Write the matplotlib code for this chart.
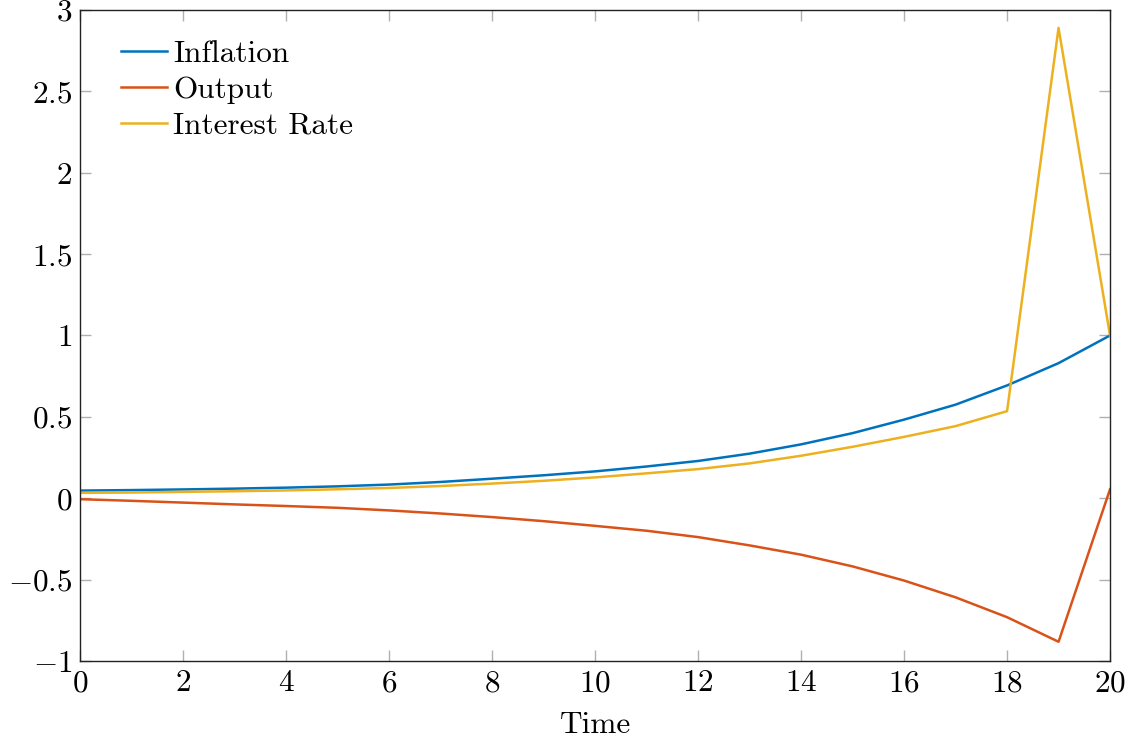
import matplotlib
matplotlib.use("Agg")
import matplotlib.pyplot as plt
from matplotlib.ticker import FuncFormatter, MultipleLocator

plt.rcParams['font.family'] = 'serif'
plt.rcParams['font.serif'] = ['cmr10', 'DejaVu Serif']
plt.rcParams['mathtext.fontset'] = 'cm'
plt.rcParams['axes.formatter.use_mathtext'] = True

# impulse responses
time = list(range(21))
inflation = [0.047, 0.050, 0.054, 0.059, 0.065, 0.073, 0.084, 0.100, 0.120, 0.141,
             0.165, 0.195, 0.229, 0.274, 0.331, 0.400, 0.483, 0.575, 0.693, 0.830, 1.0]
output = [-0.006, -0.016, -0.027, -0.038, -0.048, -0.059, -0.075, -0.094, -0.116, -0.141,
          -0.170, -0.200, -0.239, -0.290, -0.347, -0.419, -0.506, -0.609, -0.731, -0.882, 0.055]
interest = [0.033, 0.035, 0.039, 0.043, 0.048, 0.055, 0.063, 0.075, 0.090, 0.107,
            0.128, 0.153, 0.179, 0.214, 0.261, 0.316, 0.377, 0.443, 0.535, 2.89, 1.0]

fs = 22.5

fig = plt.figure(figsize=(11.35, 7.44), dpi=100)
ax = fig.add_axes([0.0709, 0.1116, 0.9071, 0.875])

ax.plot(time, inflation, color='#0072BD', lw=1.8, label='Inflation')
ax.plot(time, output, color='#D95319', lw=1.8, label='Output')
ax.plot(time, interest, color='#EDB120', lw=1.8, label='Interest Rate')

ax.set_xlim(0, 20)
ax.set_ylim(-1, 3)
ax.xaxis.set_major_locator(MultipleLocator(2))
ax.yaxis.set_major_locator(MultipleLocator(0.5))
fmt = FuncFormatter(lambda v, p: r'$%g$' % v)
ax.xaxis.set_major_formatter(fmt)
ax.yaxis.set_major_formatter(fmt)
ax.tick_params(direction='in', length=8, width=1, color='#b0b0b0',
               top=True, right=True, labelsize=fs, pad=6)
for s in ax.spines.values():
    s.set_linewidth(1.0)
    s.set_color('#222222')

ax.set_xlabel('Time', fontsize=fs, labelpad=10)

ax.legend(loc='upper left', frameon=False, fontsize=fs, handlelength=1.47,
          handletextpad=0.2, labelspacing=0.26, borderaxespad=0, borderpad=0,
          bbox_to_anchor=(0.039, 0.954))

fig.savefig('out.png', dpi=100)
